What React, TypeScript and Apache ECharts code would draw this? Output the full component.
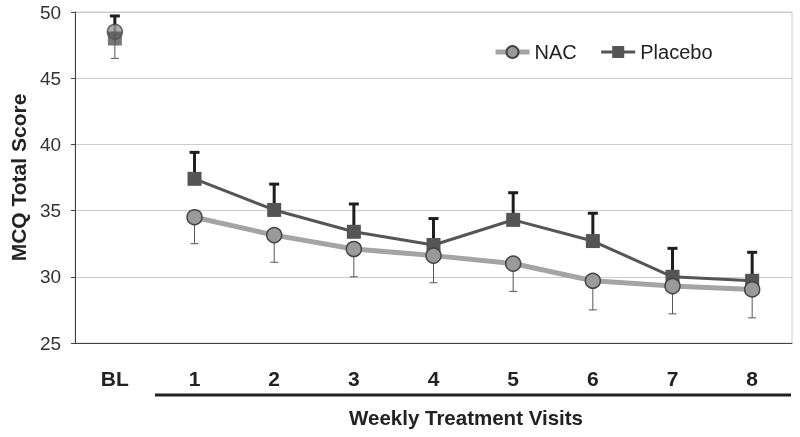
import React, { useEffect, useRef } from "react";
import * as echarts from "echarts";

const categories = ["BL", "1", "2", "3", "4", "5", "6", "7", "8"];
const nacMeans = [48.5, 34.5, 33.15, 32.1, 31.6, 31.0, 29.7, 29.3, 29.05];
const nacLower = [46.5, 32.5, 31.1, 30.0, 29.55, 28.9, 27.5, 27.2, 26.9];
const placeboMeans = [48.0, 37.4, 35.05, 33.4, 32.4, 34.3, 32.7, 30.0, 29.7];
const placeboUpper = [49.7, 39.4, 37.0, 35.5, 34.4, 36.35, 34.8, 32.15, 31.85];
const yTicks = { min: 25, max: 50, interval: 5 };

const FONT = "'Liberation Sans', Arial, sans-serif";

function errorBarSeries(name: string, means: number[], ends: number[], color: string, width: number, capHalf: number, z: number) {
  return {
    name,
    type: "custom",
    z,
    silent: true,
    data: means.map((m, i) => [i, m, ends[i]]),
    encode: { x: 0, y: [1, 2] },
    renderItem: (params: any, api: any) => {
      const i = api.value(0);
      const p0 = api.coord([i, api.value(1)]);
      const p1 = api.coord([i, api.value(2)]);
      const style = { stroke: color, lineWidth: width };
      return {
        type: "group",
        children: [
          { type: "line", shape: { x1: p0[0], y1: p0[1], x2: p1[0], y2: p1[1] }, style },
          { type: "line", shape: { x1: p1[0] - capHalf, y1: p1[1], x2: p1[0] + capHalf, y2: p1[1] }, style },
        ],
      };
    },
  };
}

export default function App() {
  const ref = useRef<HTMLDivElement>(null);
  useEffect(() => {
    if (!ref.current) return;
    const chart = echarts.init(ref.current, undefined, { renderer: "svg" });
    const nacLine = nacMeans.map((v, i) => (i === 0 ? "-" : v));
    const placeboLine = placeboMeans.map((v, i) => (i === 0 ? "-" : v));
    const nacBL = nacMeans.map((v, i) => (i === 0 ? v : "-"));
    const placeboBL = placeboMeans.map((v, i) => (i === 0 ? v : "-"));

    const nacItem = { color: "#9a9a9a", borderColor: "#444444", borderWidth: 1.5 };
    const placeboItem = { color: "#555555" };

    chart.setOption({
      animation: false,
      textStyle: { fontFamily: FONT },
      grid: {
        left: 72,
        right: 8,
        top: 12,
        bottom: 94,
        show: true,
        borderColor: "#cccccc",
        borderWidth: 1,
      },
      legend: {
        data: [
          { name: "NAC", lineStyle: { width: 5, color: "#a4a4a4" } },
          { name: "Placebo", lineStyle: { width: 3, color: "#555555" } },
        ],
        left: 488,
        top: 37,
        itemWidth: 34,
        itemHeight: 15,
        itemGap: 23,
        textStyle: { fontSize: 20, color: "#222", fontFamily: FONT },
      },
      xAxis: {
        type: "category",
        data: categories,
        boundaryGap: true,
        axisLine: { lineStyle: { color: "#444", width: 1 } },
        axisTick: { length: 7, lineStyle: { color: "#444" } },
        axisLabel: { fontSize: 21, fontWeight: "bold", color: "#222", margin: 25, fontFamily: FONT },
        splitLine: { show: false },
      },
      yAxis: {
        type: "value",
        min: yTicks.min,
        max: yTicks.max,
        interval: yTicks.interval,
        name: "MCQ Total Score",
        nameLocation: "middle",
        nameGap: 37,
        nameTextStyle: { fontSize: 21, fontWeight: "bold", color: "#222", fontFamily: FONT },
        axisLine: { show: true, lineStyle: { color: "#444" } },
        axisTick: { show: true, length: 4, lineStyle: { color: "#444" } },
        axisLabel: { fontSize: 19, color: "#333", margin: 14, fontFamily: FONT },
        splitLine: { lineStyle: { color: "#cccccc", width: 1 } },
      },
      graphic: [
        {
          type: "line",
          shape: { x1: 155, y1: 395, x2: 791, y2: 395 },
          style: { stroke: "#222", lineWidth: 3 },
        },
        {
          type: "text",
          x: 466,
          y: 417,
          style: {
            text: "Weekly Treatment Visits",
            fontSize: 20.5,
            fontWeight: "bold",
            fill: "#222",
            fontFamily: FONT,
            align: "center",
            verticalAlign: "middle",
          },
        },
      ],
      series: [
        errorBarSeries("PlaceboErr", placeboMeans, placeboUpper, "#1e1e1e", 3, 5, 2),
        errorBarSeries("NACErr", nacMeans, nacLower, "#555", 1, 4, 2),
        {
          name: "Placebo",
          type: "line",
          z: 3,
          data: placeboLine,
          symbol: "rect",
          symbolSize: 14,
          lineStyle: { color: "#555555", width: 3 },
          itemStyle: placeboItem,
        },
        {
          name: "Placebo BL",
          type: "scatter",
          z: 5,
          data: placeboBL,
          symbol: "rect",
          symbolSize: 14,
          itemStyle: placeboItem,
        },
        {
          name: "NAC",
          type: "line",
          z: 4,
          data: nacLine,
          symbol: "circle",
          symbolSize: 15,
          lineStyle: { color: "#a4a4a4", width: 5 },
          itemStyle: nacItem,
        },
        {
          name: "NAC BL",
          type: "scatter",
          z: 4,
          data: nacBL,
          symbol: "circle",
          symbolSize: 15,
          itemStyle: nacItem,
        },
      ],
    });
    return () => chart.dispose();
  }, []);
  return <div ref={ref} style={{ width: 800, height: 437, position: "fixed", left: 0, top: 0 }} />;
}
